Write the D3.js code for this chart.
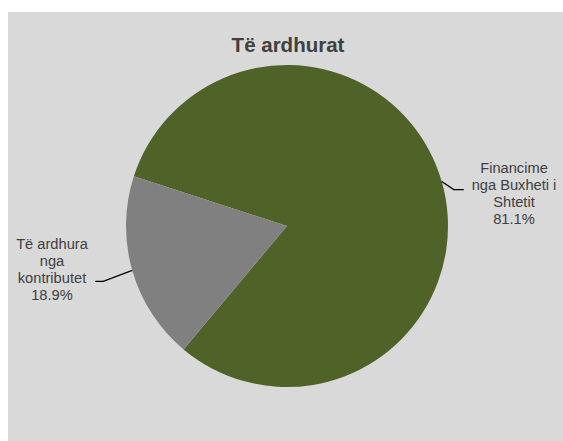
<!DOCTYPE html>
<html>
<head>
<meta charset="utf-8">
<script src="https://cdn.jsdelivr.net/npm/d3@7"></script>
<style>
  html, body { margin: 0; padding: 0; background: #ffffff; }
  svg { display: block; }
</style>
</head>
<body>
<svg id="chart" width="563" height="441"></svg>
<script>
// Revenue sources
const categories = ["Financime nga Buxheti i Shtetit", "Të ardhura nga kontributet"];
const values = [81.1, 18.9];
const labelLines = [
  ["Financime", "nga Buxheti i", "Shtetit", "81.1%"],
  ["Të ardhura", "nga", "kontributet", "18.9%"]
];
const colors = ["#4f6228", "#808080"];
const title = "Të ardhurat";

const W = 563, H = 441;
const svg = d3.select("#chart");

// chart area background
svg.append("rect")
  .attr("x", 8).attr("y", 12)
  .attr("width", W - 8).attr("height", H - 12)
  .attr("fill", "#d9d9d9");

svg.append("text")
  .attr("x", 288).attr("y", 52)
  .attr("text-anchor", "middle")
  .attr("font-family", "Arial, 'Liberation Sans', sans-serif")
  .attr("font-weight", "bold")
  .attr("font-size", "20.5px")
  .attr("fill", "#404040")
  .text(title);

const cx = 287, cy = 226, R = 161;
const start = -72 * Math.PI / 180;

const pie = d3.pie().sort(null).value(d => d)
  .startAngle(start).endAngle(start + 2 * Math.PI);
const arcs = pie(values);
const arc = d3.arc().innerRadius(0).outerRadius(R);

const g = svg.append("g").attr("transform", `translate(${cx},${cy})`);

g.selectAll("path.slice")
  .data(arcs)
  .join("path")
  .attr("class", "slice")
  .attr("d", arc)
  .attr("fill", (d, i) => colors[i]);

// leader lines and labels: elbow offset and label anchor per slice
const leader = [
  { elbow: [12, 8], end: [22, 8], label: [227, -53] },
  { elbow: [-29, 11], end: [-37, 11], label: [-235, 23] }
];

arcs.forEach((d, i) => {
  const a = (d.startAngle + d.endAngle) / 2;
  const p0 = [R * Math.sin(a), -R * Math.cos(a)];
  const L = leader[i];
  const p1 = [p0[0] + L.elbow[0], p0[1] + L.elbow[1]];
  const p2 = [p0[0] + L.end[0], p0[1] + L.end[1]];
  g.append("path")
    .attr("d", d3.line()([p0, p1, p2]))
    .attr("fill", "none")
    .attr("stroke", "#000000")
    .attr("stroke-width", 1.3);

  const t = g.append("text")
    .attr("text-anchor", "middle")
    .attr("font-family", "Arial, 'Liberation Sans', sans-serif")
    .attr("font-size", "14.67px")
    .attr("fill", "#404040");
  labelLines[i].forEach((s, j) => {
    t.append("tspan")
      .attr("x", L.label[0])
      .attr("y", L.label[1] + j * 17)
      .text(s);
  });
});
</script>
</body>
</html>
